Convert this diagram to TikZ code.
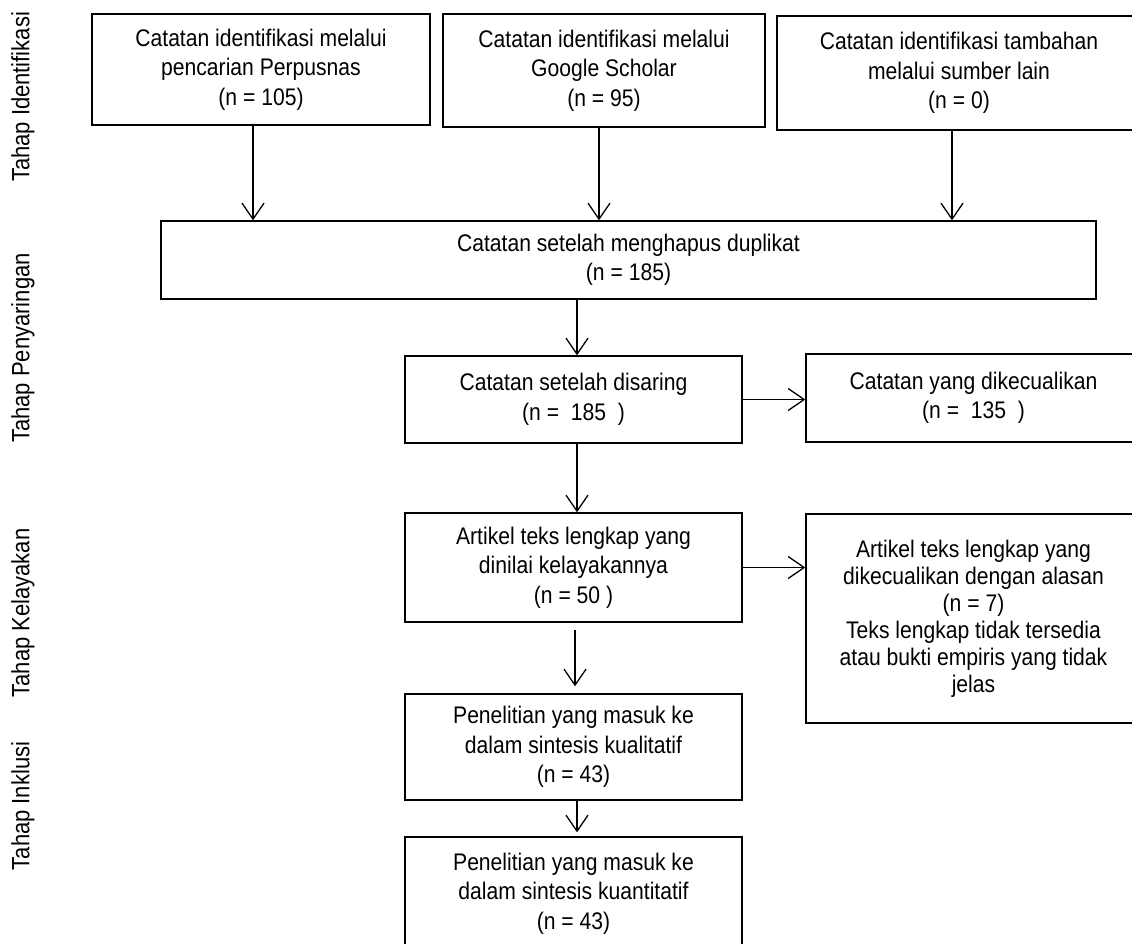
\documentclass[tikz,border=0pt]{standalone}
\usepackage{fontspec}
\setmainfont[FakeStretch=0.88]{Liberation Sans}
\usetikzlibrary{arrows.meta}
\begin{document}
\begin{tikzpicture}[x=1pt,y=-1pt,
  box/.style={draw=black, line width=1.4pt, inner sep=0pt, align=center,
    font=\fontsize{24}{29.5}\selectfont},
  arr/.style={line width=1.3pt, -{Straight Barb[length=16pt,width=22pt,line width=1.3pt]}},
  side/.style={rotate=90, font=\fontsize{25}{30}\selectfont}]
\useasboundingbox (0,0) rectangle (1132,944);
\clip (0,0) rectangle (1132,944);

% side labels
\node[side] (l1) at (23,97) {Tahap Identifikasi};
\node[side] (l2) at (23,348) {Tahap Penyaringan};
\node[side] (l3) at (23,613) {Tahap Kelayakan};
\node[side] (l4) at (23,806) {Tahap Inklusi};

% boxes
\node[box, minimum width=338pt, minimum height=111pt] (b1) at (261,69.5)
  {Catatan identifikasi melalui\\pencarian Perpusnas\\(n = 105)};
\node[box, minimum width=322pt, minimum height=113pt] (b2) at (604,70.5)
  {Catatan identifikasi melalui\\Google Scholar\\(n = 95)};
\node[box, minimum width=364pt, minimum height=114pt] (b3) at (959,73)
  {Catatan identifikasi tambahan\\melalui sumber lain\\(n = 0)};
\node[box, minimum width=935pt, minimum height=78pt] (big) at (628.5,260)
  {Catatan setelah menghapus duplikat\\(n = 185)};
\node[box, minimum width=337pt, minimum height=87pt] (s1) at (573.5,399.5)
  {Catatan setelah disaring\\(n =~~185~~)};
\node[box, minimum width=335pt, minimum height=88pt] (x1) at (973.5,398)
  {Catatan yang dikecualikan\\(n =~~135~~)};
\node[box, minimum width=337pt, minimum height=109pt] (a1) at (573.5,567.5)
  {Artikel teks lengkap yang\\dinilai kelayakannya\\(n = 50 )};
\node[box, minimum width=335pt, minimum height=209pt,
  font=\fontsize{24}{27}\selectfont] (x2) at (973.5,618.5)
  {Artikel teks lengkap yang\\dikecualikan dengan alasan\\(n = 7)\\Teks lengkap tidak tersedia\\atau bukti empiris yang tidak\\jelas};
\node[box, minimum width=337pt, minimum height=106pt] (q1) at (573.5,747)
  {Penelitian yang masuk ke\\dalam sintesis kualitatif\\(n = 43)};
\node[box, minimum width=337pt, minimum height=113pt] (q2) at (573.5,893.5)
  {Penelitian yang masuk ke\\dalam sintesis kuantitatif\\(n = 43)};

% connectors
\draw[arr] ([xshift=-8pt]b1.south) -- ([xshift=-8pt]b1.south |- big.north);
\draw[arr] ([xshift=-5pt]b2.south) -- ([xshift=-5pt]b2.south |- big.north);
\draw[arr] ([xshift=-7pt]b3.south) -- ([xshift=-7pt]b3.south |- big.north);
\draw[arr] ([xshift=3.5pt]s1.north |- big.south) -- ([xshift=3.5pt]s1.north);
\draw[arr] (s1.east) -- (s1.east -| x1.west);
\draw[arr] ([xshift=3.5pt]s1.south) -- ([xshift=3.5pt]a1.north);
\draw[arr] (a1.east) -- (a1.east -| x2.west);
\draw[arr, shorten <=7pt, shorten >=7pt] ([xshift=1.5pt]a1.south) -- ([xshift=1.5pt]q1.north);
\draw[arr, shorten >=4pt] ([xshift=3.5pt]q1.south) -- ([xshift=3.5pt]q2.north);
\end{tikzpicture}
\end{document}
